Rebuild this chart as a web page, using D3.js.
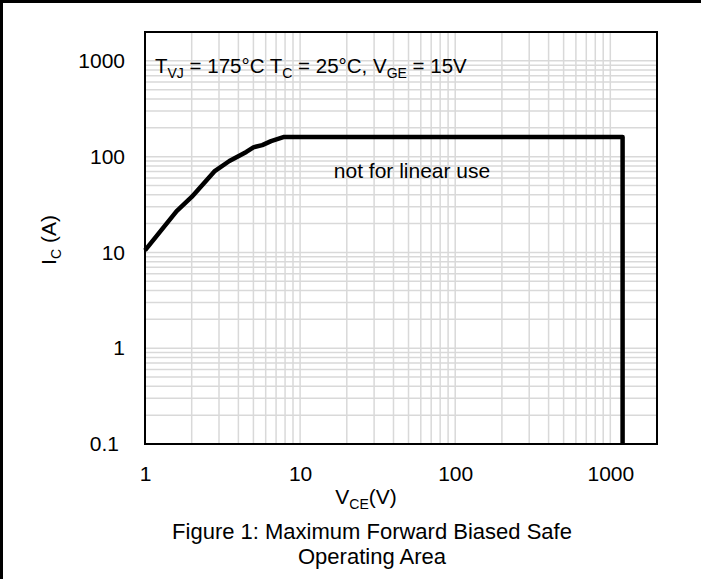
<!DOCTYPE html>
<html><head><meta charset="utf-8">
<script src="https://cdn.jsdelivr.net/npm/d3@7"></script>
<style>
body{margin:0;background:#fff;}
svg{display:block;font-family:"Liberation Sans",Arial,sans-serif;}
</style></head>
<body><svg id="c" width="701" height="579"></svg>
<script>
// Data
const vceValues = [1, 1.6, 2.0, 2.8, 3.5, 4.5, 5.0, 5.7, 6.5, 7.8, 1200, 1200];
const icValues  = [10.5, 27, 38, 70, 90, 112, 125, 132, 145, 160, 160, 0.1];
const xTicks = [1, 10, 100, 1000];
const yTicks = [0.1, 1, 10, 100, 1000];
const xTickLabels = ["1", "10", "100", "1000"];
const yTickLabels = ["0.1", "1", "10", "100", "1000"];

const svg = d3.select("#c");
const L = 145, R = 657, T = 32, B = 444;
const x = d3.scaleLog().domain([1, 2000]).range([L, R]);
const y = d3.scaleLog().domain([0.1, 2000]).range([B, T]);
const FS = 21, SFS = 14;

// outer frame (left + top)
svg.append("line").attr("x1",1.5).attr("x2",1.5).attr("y1",0).attr("y2",579).attr("stroke","#000").attr("stroke-width",3);
svg.append("line").attr("x1",0).attr("x2",701).attr("y1",1.5).attr("y2",1.5).attr("stroke","#000").attr("stroke-width",3);

// grid
const xGrid = [];
for (let d = 1; d <= 1000; d *= 10) for (let m = 1; m <= 9; m++) { const v = d*m; if (v > 1 && v < 2000) xGrid.push(v); }
const yGrid = [];
for (let d = 0.1; d <= 1000.5; d *= 10) for (let m = 1; m <= 9; m++) { const v = d*m; if (v > 0.1 && v < 2000) yGrid.push(v); }
const g = svg.append("g");
g.selectAll(".gx").data(xGrid).join("line")
  .attr("x1",d=>x(d)).attr("x2",d=>x(d)).attr("y1",T).attr("y2",B)
  .attr("stroke","#d9d9d9").attr("stroke-width",1.5);
g.selectAll(".gy").data(yGrid).join("line")
  .attr("x1",L).attr("x2",R).attr("y1",d=>y(d)).attr("y2",d=>y(d))
  .attr("stroke","#d9d9d9").attr("stroke-width",1.5);

// plot border
svg.append("rect").attr("x",L).attr("y",T).attr("width",R-L).attr("height",B-T)
  .attr("fill","none").attr("stroke","#000").attr("stroke-width",2);

// axes
const xAxis = d3.axisBottom(x).tickValues(xTicks).tickSize(0).tickPadding(22)
  .tickFormat((d,i)=>xTickLabels[i]);
const gx = svg.append("g").attr("transform",`translate(0,${B})`).call(xAxis);
gx.select(".domain").remove();
gx.selectAll("text").attr("font-size",FS).attr("fill","#000").attr("font-family","Liberation Sans, Arial, sans-serif");

const yAxis = d3.axisLeft(y).tickValues(yTicks).tickSize(0).tickPadding(20)
  .tickFormat((d,i)=>yTickLabels[i]);
const gy = svg.append("g").attr("transform",`translate(${L},0)`).call(yAxis);
gy.select(".domain").remove();
gy.selectAll("text").attr("font-size",FS).attr("fill","#000").attr("font-family","Liberation Sans, Arial, sans-serif")
  .attr("dx",(d,i)=> i===0 ? -6 : 0);

// curve
const line = d3.line().x((d,i)=>x(vceValues[i])).y((d,i)=>y(icValues[i]));
svg.append("path").datum(vceValues).attr("d",line)
  .attr("fill","none").attr("stroke","#000").attr("stroke-width",4.5).attr("stroke-linejoin","round");

// annotation
const ann = svg.append("text").attr("x",155).attr("y",73).attr("font-size",FS-0.5).attr("fill","#000");
ann.append("tspan").text("T");
ann.append("tspan").attr("font-size",SFS).attr("dy",5).text("VJ");
ann.append("tspan").attr("dy",-5).text(" = 175°C T");
ann.append("tspan").attr("font-size",SFS).attr("dy",5).text("C");
ann.append("tspan").attr("dy",-5).text(" = 25°C, V");
ann.append("tspan").attr("font-size",SFS).attr("dy",5).text("GE");
ann.append("tspan").attr("dy",-5).text(" = 15V");

svg.append("text").attr("x",412).attr("y",178).attr("text-anchor","middle")
  .attr("font-size",FS).text("not for linear use");

// x title
const xt = svg.append("text").attr("x",366).attr("y",504).attr("text-anchor","middle").attr("font-size",FS);
xt.append("tspan").text("V");
xt.append("tspan").attr("font-size",SFS).attr("dy",5).text("CE");
xt.append("tspan").attr("dy",-5).text("(V)");

svg.append("text").attr("x",372).attr("y",539).attr("text-anchor","middle").attr("font-size",FS+1).text("Figure 1: Maximum Forward Biased Safe");
svg.append("text").attr("x",372).attr("y",564).attr("text-anchor","middle").attr("font-size",FS+1).text("Operating Area");

// y title
const yt = svg.append("text").attr("transform","translate(56,240) rotate(-90)").attr("text-anchor","middle").attr("font-size",FS);
yt.append("tspan").text("I");
yt.append("tspan").attr("font-size",SFS).attr("dy",5).text("C");
yt.append("tspan").attr("dy",-5).text(" (A)");
</script></body></html>
